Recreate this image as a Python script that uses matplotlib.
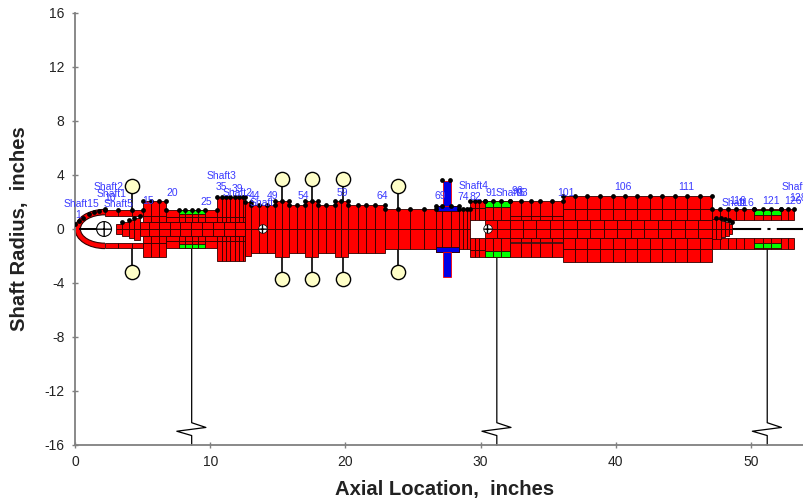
import matplotlib
matplotlib.use('Agg')
import matplotlib.pyplot as plt
from matplotlib.patches import Rectangle, Ellipse, Circle

plt.rcParams['font.family'] = ['Liberation Sans', 'DejaVu Sans']
plt.rcParams['axes.unicode_minus'] = False

# outer shaft sections: station edges, outer radius, inner radius, row split
seg_edges = [
    [2.2, 3.2, 4.2, 5.0],
    [5.0, 5.6, 6.2, 6.7],
    [6.7, 7.7, 8.15, 8.65, 9.1, 9.6, 10.5],
    [10.5, 10.9, 11.2, 11.5, 11.8, 12.1, 12.4, 12.6],
    [12.6, 13.0],
    [13.0, 13.6, 14.2, 14.8],
    [14.8, 15.3, 15.8],
    [15.8, 16.4, 17.0],
    [17.0, 17.5, 18.0],
    [18.0, 18.6, 19.2],
    [19.2, 19.7, 20.2],
    [20.2, 20.9, 21.5, 22.2, 22.9],
    [22.9, 23.9, 24.8, 25.8, 26.7],
    [26.7, 27.15, 27.8, 28.4],
    [28.4, 28.7, 29.0, 29.2],
    [29.2, 29.6, 29.9, 30.3],
    [30.3, 30.9, 31.5, 32.2],
    [32.2, 33.0, 33.7, 34.4, 35.3, 36.1],
    [36.1, 37.0, 37.9, 38.8, 39.8, 40.7, 41.6, 42.5, 43.4, 44.4, 45.3, 46.2, 47.1],
    [47.1, 47.7, 48.3, 48.9, 49.5, 50.2],
    [50.2, 50.9, 51.5, 52.2],
    [52.2, 52.7, 53.2],
]
seg_ro = [1.43, 2.05, 1.4, 2.4, 2.0, 1.75, 2.05, 1.75, 2.05, 1.75, 2.05, 1.75,
          1.5, 1.72, 1.5, 2.1, 2.1, 2.1, 2.44, 1.45, 1.45, 1.45]
seg_ri = [1.0, 0.55, 0.55, 0.55, 0.0, 0.0, 0.0, 0.0, 0.0, 0.0, 0.0, 0.0,
          0.0, 0.0, 0.0, 0.65, 0.65, 0.65, 0.65, 0.67, 0.67, 0.67]
seg_split = [0, 1.0, 0.9, 0.9, 0, 0, 0, 0, 0, 0, 0, 0,
             0, 0, 0, 1.55, 1.6, 1.0, 1.45, 0, 0, 0]

# inner shaft cells
inner_edges = [3.0, 3.5, 4.0, 4.4, 4.8, 5.5, 6.2, 7.0, 7.8, 8.6, 9.4, 10.2, 11.0, 11.8, 12.6,
               30.3, 31.2, 32.2, 33.1, 34.1, 35.1, 36.1, 37.1, 38.1, 39.1, 40.1, 41.1, 42.1,
               43.1, 44.1, 45.1, 46.1, 47.1, 47.4, 47.8, 48.1, 48.4, 48.6]
inner_r = [0.4, 0.55, 0.7, 0.85, 0.55, 0.55, 0.55, 0.55, 0.55, 0.55, 0.55, 0.55, 0.55, 0.55,
           0.0, 0.65, 0.65, 0.65, 0.65, 0.65, 0.65, 0.65, 0.65, 0.65, 0.65, 0.65, 0.65, 0.65,
           0.65, 0.65, 0.65, 0.65, 0.72, 0.72, 0.62, 0.55, 0.4]

# bearing journals, green
green_edges = [[7.7, 8.15, 8.65, 9.1, 9.6], [30.3, 30.9, 31.5, 32.2], [50.2, 50.9, 51.5, 52.2]]
green_in = [1.1, 1.65, 1.05]
green_out = [1.4, 2.1, 1.43]

# blue disk
blue_band_x = [26.7, 28.4]
blue_band_r = [1.35, 1.72]
blue_disk_x = [27.2, 27.8]
blue_disk_r = [1.72, 3.58]

# nose cone dots
nose_x = [0.0, 0.3, 0.6, 1.0, 1.4, 1.8, 2.2]
nose_y = [0.35, 0.6, 0.85, 1.1, 1.25, 1.35, 1.45]

# yellow disks
disk_x = [4.2, 15.3, 17.55, 19.8, 23.9]
disk_y = [3.15, 3.7, 3.7, 3.7, 3.15]
disk_base = [1.43, 2.05, 2.05, 2.05, 1.5]

# bearing supports
bearing_x = [8.63, 31.2, 51.2]
bearing_top = [1.4, 2.1, 1.43]
zig_dx = [0.0, 0.0, 1.05, -1.1, 0.0, 0.0]
zig_y = [-1.4, -14.35, -14.7, -14.98, -15.3, -16.0]

# holes, small bearings
hole_x = [13.9, 30.55]
hole_r = [0.32, 0.32]

# station labels
lab_text = ['Shaft1', '5', '1', 'Shaft2', 'Shaft1', 'Shaft5', '10', '15', '20', '25', 'Shaft3', '35',
            '39', 'Shaft2', '44', 'Shaft', '49', '54', '59', '64', '69', 'Shaft4', '74', '82', '91',
            'Shaft5', '96', '93', '101', '106', '111', 'Shaft', '116', '116', '121', '126', '128', 'Shaft6']
lab_x = [0.25, 1.5, 0.25, 2.5, 2.7, 3.25, 2.6, 5.4, 7.2, 9.7, 10.8, 10.8,
         12.05, 12.0, 13.3, 13.8, 14.6, 16.9, 19.8, 22.7, 27.0, 29.5, 28.7, 29.6, 30.8,
         32.2, 32.7, 33.1, 36.3, 40.5, 45.2, 48.7, 49.0, 49.6, 51.5, 53.1, 53.5, 53.4]
lab_y = [1.85, 1.85, 1.04, 3.1, 2.6, 1.85, 2.3, 2.07, 2.65, 2.0, 3.93, 3.1,
         3.0, 2.7, 2.45, 1.9, 2.45, 2.45, 2.65, 2.45, 2.45, 3.2, 2.4, 2.4, 2.7,
         2.7, 2.8, 2.7, 2.7, 3.1, 3.1, 1.9, 2.07, 1.9, 2.07, 2.07, 2.3, 3.1]

RED = '#ff0000'
GREEN = '#00ff00'
BLUE = '#0000e6'
EDGE = '#300000'
GRAY = '#808080'

fig = plt.figure(figsize=(8.04, 5.04), dpi=100)
ax = fig.add_axes([75 / 804, 1 - 445 / 504, 729 / 804, 432 / 504])


def cell(x0, x1, r0, r1, color=RED, z=2):
    # one cell above and its mirror below the centre line
    for s in (1, -1):
        ax.add_patch(Rectangle((x0, s * r0), x1 - x0, s * (r1 - r0), facecolor=color,
                               edgecolor=EDGE, linewidth=0.6, zorder=z))


# nose cone, only left half of the ellipses
clip = Rectangle((-1, -3), 3.2, 6, transform=ax.transData)
nose_out = Ellipse((2.2, 0), 4.4, 2.9, facecolor=RED, edgecolor=EDGE, linewidth=0.8, zorder=2)
nose_in = Ellipse((2.2, 0), 3.6, 2.1, facecolor='white', edgecolor=EDGE, linewidth=0.8, zorder=2)
ax.add_patch(nose_out)
ax.add_patch(nose_in)
nose_out.set_clip_path(clip)
nose_in.set_clip_path(clip)

dot_x = list(nose_x)
dot_y = list(nose_y)

for edges, ro, ri, split in zip(seg_edges, seg_ro, seg_ri, seg_split):
    for x0, x1 in zip(edges[:-1], edges[1:]):
        if split:
            cell(x0, x1, ri, split)
            cell(x0, x1, split, ro)
        else:
            cell(x0, x1, ri, ro)
    dot_x += edges
    dot_y += [ro] * len(edges)

for x0, x1, r in zip(inner_edges[:-1], inner_edges[1:], inner_r):
    if r > 0:
        cell(x0, x1, 0, r, z=3)
        dot = x1 < 5 or x0 > 47
        if dot:
            dot_x.append(x1)
            dot_y.append(r + 0.1)

for edges, r0, r1 in zip(green_edges, green_in, green_out):
    for x0, x1 in zip(edges[:-1], edges[1:]):
        cell(x0, x1, r0, r1, color=GREEN, z=4)

cell(blue_band_x[0], blue_band_x[1], blue_band_r[0], blue_band_r[1], color=BLUE, z=4)
for s in (1, -1):
    ax.add_patch(Rectangle((blue_disk_x[0], s * blue_disk_r[0]), blue_disk_x[1] - blue_disk_x[0],
                           s * (blue_disk_r[1] - blue_disk_r[0]), facecolor=BLUE,
                           edgecolor=RED, linewidth=0.6, zorder=4))
dot_x += [27.15, 27.75]
dot_y += [3.6, 3.6]

# white cavities + bearing symbols
ax.plot([0.4, 2.1], [0, 0], color='black', lw=1.4, zorder=3)
ax.add_patch(Circle((2.15, 0), 0.55, facecolor='white', edgecolor='black', hatch='++',
                    linewidth=0.8, zorder=5))
for x, r in zip(hole_x, hole_r):
    ax.add_patch(Circle((x, 0), r, facecolor='white', edgecolor='black', hatch='++',
                        linewidth=0.5, zorder=5))

# centre line past the inner shaft
ax.plot([48.6, 53.9], [0, 0], color='black', lw=1.5, ls=(0, (14, 3, 1.5, 3)), zorder=2)

# stems and disks
for x, y, base in zip(disk_x, disk_y, disk_base):
    ax.plot([x, x], [base, y], color='black', lw=1.2, zorder=1)
    ax.plot([x, x], [-base, -y], color='black', lw=1.2, zorder=1)
ax.scatter(disk_x + disk_x, disk_y + [-y for y in disk_y], s=105, facecolor='#ffffc8',
           edgecolor='black', linewidth=1.0, zorder=6)

ax.scatter(dot_x, dot_y, s=12, color='black', linewidth=0, zorder=7)

# bearing supports
for x, top in zip(bearing_x, bearing_top):
    ys = [-top] + zig_y[1:]
    ax.plot([x + d for d in zig_dx], ys, color='black', lw=0.9, zorder=1, clip_on=False)

for t, x, y in zip(lab_text, lab_x, lab_y):
    ax.text(x, y, t, color='#3a3aff', fontsize=7.5, ha='center', va='center', zorder=8, clip_on=False)

ax.set_xlim(0, 53.92)
ax.set_ylim(-16, 16)
ax.set_xticks([0, 10, 20, 30, 40, 50])
ax.set_yticks([-16, -12, -8, -4, 0, 4, 8, 12, 16])
ax.tick_params(direction='inout', length=5, width=1, color=GRAY, labelsize=10, labelcolor='#222222', pad=5)
ax.spines['top'].set_visible(False)
ax.spines['right'].set_visible(False)
ax.spines['left'].set_color(GRAY)
ax.spines['bottom'].set_color(GRAY)
ax.spines['left'].set_linewidth(1.3)
ax.spines['bottom'].set_linewidth(1.3)

fig.text(445 / 804, 1 - 490 / 504, 'Axial Location,  inches', fontsize=14.6, fontweight='bold',
         ha='center', va='center', color='#222222')
fig.text(20 / 804, 1 - 229 / 504, 'Shaft Radius,  inches', fontsize=14.6, fontweight='bold',
         ha='center', va='center', rotation=90, color='#222222')

fig.savefig('out.png', dpi=100)
